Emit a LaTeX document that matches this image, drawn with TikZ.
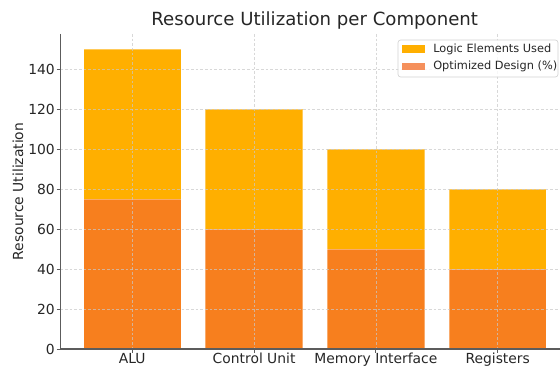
\documentclass[tikz,border=0pt]{standalone}
\usepackage{fontspec}
\setmainfont{DejaVu Sans}
\definecolor{logic}{HTML}{FFAF00}
\definecolor{optbar}{HTML}{F77F1E}
\definecolor{optleg}{HTML}{F5905C}
\definecolor{txt}{HTML}{262626}
\definecolor{gridc}{HTML}{C8C8C8}
\tikzset{
  gridline/.style={draw=gridc, line width=0.5pt, dash pattern=on 2pt off 1.5pt, opacity=0.7},
  baredge/.style={draw=white, draw opacity=0.35, line width=0.6pt},
  spine/.style={draw=txt!75, line width=0.9pt},
  tickmark/.style={draw=txt!75, line width=0.7pt},
  ticklabel/.style={text=txt, font=\fontsize{10.4}{12}\selectfont, inner sep=0pt},
  legtext/.style={text=txt, font=\fontsize{8.5}{10}\selectfont, inner sep=0pt, anchor=west},
}
\begin{document}
\begin{tikzpicture}[x=0.75pt,y=-0.75pt]
\useasboundingbox (0,0) rectangle (560,367);
% bars
\foreach \i/\v/\o in {0/150/75, 1/120/60, 2/100/50, 3/80/40}{
  \pgfmathsetmacro{\cx}{132.3+121.8*\i}
  \fill[logic] (\cx-48.7,349) rectangle (\cx+48.7,349-2*\v);
  \fill[optbar] (\cx-48.7,349) rectangle (\cx+48.7,349-2*\o);
  \draw[baredge] (\cx-48.7,349) rectangle (\cx+48.7,349-2*\v);
  \draw[baredge] (\cx-48.7,349-2*\o) -- (\cx+48.7,349-2*\o);
}
% grid
\foreach \v in {0,20,...,140}{
  \draw[gridline] (60.4,349-2*\v) -- (560,349-2*\v);
}
\foreach \i in {0,1,2,3}{
  \draw[gridline] (132.3+121.8*\i,34) -- (132.3+121.8*\i,349);
}
% spines
\draw[spine] (60.4,34) -- (60.4,349) -- (560,349);
% y ticks
\foreach \v in {0,20,...,140}{
  \draw[tickmark] (56.5,349-2*\v) -- (60.4,349-2*\v);
  \node[ticklabel, anchor=east] (yt\v) at (55,349-2*\v) {\v};
}
% x ticks
\foreach \i/\lab in {0/ALU, 1/Control Unit, 2/Memory Interface, 3/Registers}{
  \draw[tickmark] (132.3+121.8*\i,349) -- (132.3+121.8*\i,353);
  \node[ticklabel, anchor=base] (xt\i) at (132.3+121.8*\i,363.5) {\lab};
}
% labels
\node[ticklabel, rotate=90] (ylab) at (18,191.5) {Resource Utilization};
\node[text=txt, font=\fontsize{13.6}{15}\selectfont, inner sep=0pt] (title) at (314.7,20) {Resource Utilization per Component};
% legend
\node[draw=gridc!80, fill=white, fill opacity=0.8, rounded corners=2pt, line width=0.5pt, minimum width=160*0.75pt, minimum height=37*0.75pt, inner sep=0pt] (legend) at (478,58.5) {};
\fill[logic] (402,45.5) rectangle (425,53);
\fill[optleg] (402,63) rectangle (425,70.5);
\node[legtext] (leg1) at (433,49.3) {Logic Elements Used};
\node[legtext] (leg2) at (433,66.8) {Optimized Design (\%)};
\end{tikzpicture}
\end{document}
